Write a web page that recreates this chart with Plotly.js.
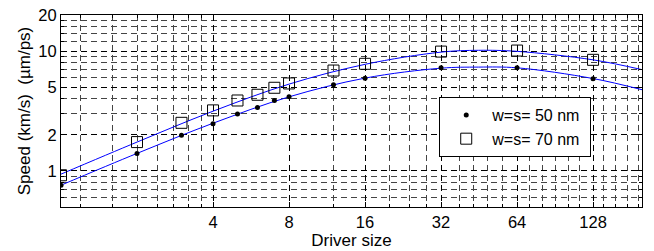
<!DOCTYPE html>
<html>
<head>
<meta charset="utf-8">
<script src="https://cdn.plot.ly/plotly-3.0.1.min.js"></script>
<style>html,body{margin:0;padding:0;background:#fff;}#chart{width:654px;height:251px;}</style>
</head>
<body>
<div id="chart"></div>
<script>
// Driver sizes of the measured points
var driverSize = [1, 2, 3, 4, 5, 6, 7, 8, 12, 16, 32, 64, 128];
// Measured speeds
var speed50 = [0.76, 1.40, 1.98, 2.48, 2.98, 3.39, 3.87, 4.16, 5.23, 5.94, 7.25, 7.25, 5.87];
var speed70 = [0.92, 1.74, 2.52, 3.20, 3.87, 4.32, 4.94, 5.37, 6.88, 7.83, 9.90, 10.10, 8.45];
// Fitted curves
var fitX = [1, 2, 4, 8, 16, 32, 45, 64, 128, 200];
var fit50 = [0.76, 1.40, 2.50, 4.15, 5.95, 7.20, 7.35, 7.25, 5.90, 4.76];
var fit70 = [0.94, 1.74, 3.15, 5.30, 7.75, 9.80, 10.15, 9.95, 8.45, 7.00];
// Axis ticks
var xTicks = [4, 8, 16, 32, 64, 128];
var xTickText = ['4', '8', '16', '32', '64', '128'];
var xMinor = [1.2, 1.6, 2, 2.4, 2.8, 3.2, 3.6, 12, 20, 24, 28, 38, 43, 49, 56, 72, 81, 91, 102, 113, 141, 157, 175, 194];
var yTicks = [1, 2, 5, 10, 20];
var yTickText = ['1', '2', '5', '10', '20'];
var yMinor = [0.6, 0.7, 0.8, 0.9, 3, 4, 6, 7, 8, 9, 12, 14, 16, 18];
var legendNames = ['w=s= 50 nm ', 'w=s= 70 nm '];

var traces = [
  {x: fitX, y: fit50, mode: 'lines', line: {color: '#0000ff', width: 1, shape: 'spline'}, showlegend: false, hoverinfo: 'skip'},
  {x: fitX, y: fit70, mode: 'lines', line: {color: '#0000ff', width: 1, shape: 'spline'}, showlegend: false, hoverinfo: 'skip'},
  {x: driverSize, y: speed50, mode: 'markers', name: legendNames[0],
   marker: {symbol: 'circle', size: 5, color: '#000'}},
  {x: driverSize, y: speed70, mode: 'markers', name: legendNames[1],
   marker: {symbol: 'square-open', size: 11, color: '#000', line: {width: 1, color: '#000'}}}
];

var fam = 'Liberation Sans, Arial, sans-serif';
var tickFont = {family: fam, size: 16.5, color: '#000'};
var titleFont = {family: fam, size: 17, color: '#000'};
var layout = {
  width: 654, height: 251,
  margin: {l: 61, r: 12, t: 15, b: 44},
  paper_bgcolor: '#fff', plot_bgcolor: '#fff',
  font: tickFont,
  showlegend: true,
  legend: {x: 0.651, y: 0.573, xanchor: 'left', yanchor: 'top', bgcolor: '#fff',
           bordercolor: '#000', borderwidth: 1, font: {family: fam, size: 16, color: '#000'},
           itemwidth: 42, tracegroupgap: 0},
  xaxis: {
    type: 'log', range: [0, Math.log10(200)],
    tickmode: 'array', tickvals: xTicks, ticktext: xTickText,
    ticks: 'inside', ticklen: 5, tickcolor: '#000', tickwidth: 1,
    showline: true, linecolor: '#000', linewidth: 1, mirror: 'ticks',
    showgrid: true, gridcolor: '#000', gridwidth: 1, griddash: '6px,4px',
    zeroline: false,
    minor: {tickmode: 'array', tickvals: xMinor, ticks: 'inside', ticklen: 3, tickcolor: '#000',
            showgrid: true, gridcolor: '#444', gridwidth: 1, griddash: '6px,4px'},
    title: {text: 'Driver size', font: titleFont, standoff: 1},
    tickfont: tickFont
  },
  yaxis: {
    type: 'log', range: [Math.log10(0.5), Math.log10(20)],
    tickmode: 'array', tickvals: yTicks, ticktext: yTickText,
    ticks: 'inside', ticklen: 5, tickcolor: '#000', tickwidth: 1,
    showline: true, linecolor: '#000', linewidth: 1, mirror: 'ticks',
    showgrid: true, gridcolor: '#000', gridwidth: 1, griddash: '6px,4px',
    zeroline: false,
    minor: {tickmode: 'array', tickvals: yMinor, ticks: 'inside', ticklen: 3, tickcolor: '#000',
            showgrid: true, gridcolor: '#444', gridwidth: 1, griddash: '6px,4px'},
    title: {text: 'Speed (km/s)  (\u00b5m/ps)', font: titleFont, standoff: 3},
    tickfont: tickFont
  }
};
Plotly.newPlot('chart', traces, layout, {displayModeBar: false, staticPlot: true});
</script>
</body>
</html>
